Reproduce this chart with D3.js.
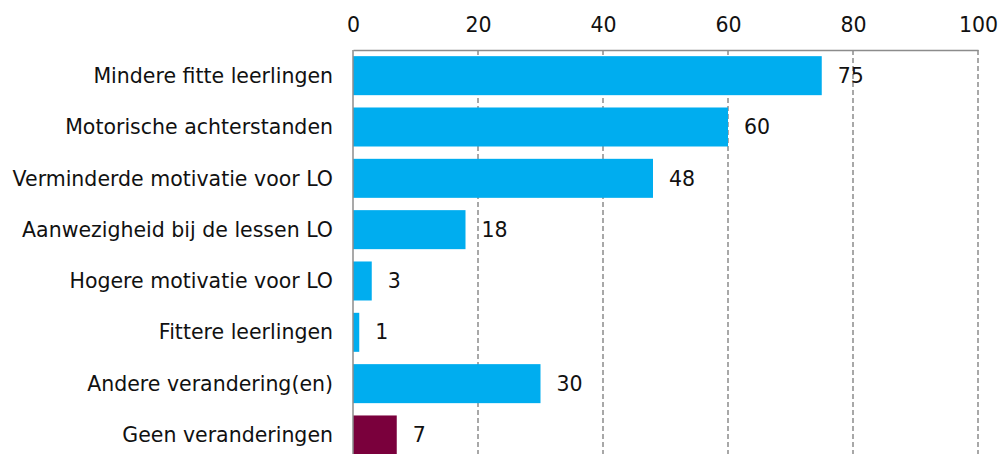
<!DOCTYPE html>
<html>
<head>
<meta charset="utf-8">
<script src="https://cdn.jsdelivr.net/npm/d3@7"></script>
<style>
  body { margin: 0; background: #fff; }
  svg { display: block; font-family: "DejaVu Sans", Verdana, sans-serif; }
</style>
</head>
<body>
<svg id="chart" width="1007" height="454"></svg>
<script>
// categories and values (percent)
var categories = [
    'Mindere fitte leerlingen',
    'Motorische achterstanden',
    'Verminderde motivatie voor LO',
    'Aanwezigheid bij de lessen LO',
    'Hogere motivatie voor LO',
    'Fittere leerlingen',
    'Andere verandering(en)',
    'Geen veranderingen'
];
var values = [75, 60, 48, 18, 3, 1, 30, 7];
var tickValues = [0, 20, 40, 60, 80, 100];

var
svg = d3.select('#chart'),
plotLeft = 353,
plotRight = 978,
plotTop = 50,
step = 51.33,
fontSize = '20.5px',
barColor = '#00adef',
lastColor = '#7a003c',
gridColor = '#8c8c8c';

var x = d3.scaleLinear().domain([0, 100]).range([plotLeft, plotRight]);
var y = d3.scaleBand()
    .domain(categories)
    .range([plotTop, plotTop + step * categories.length])
    .paddingInner(0.24)
    .paddingOuter(0.12);

// dashed gridlines
svg.append('g').selectAll('line')
    .data(tickValues.filter(function (d) { return d > 0; }))
    .enter().append('line')
    .attr('x1', function (d) { return x(d); })
    .attr('x2', function (d) { return x(d); })
    .attr('y1', plotTop)
    .attr('y2', 470)
    .attr('stroke', gridColor)
    .attr('stroke-width', 1.5)
    .attr('stroke-dasharray', '5,3');

// bars
svg.append('g').selectAll('rect')
    .data(values)
    .enter().append('rect')
    .attr('x', x(0))
    .attr('y', function (d, i) { return y(categories[i]); })
    .attr('width', function (d) { return x(d) - x(0); })
    .attr('height', y.bandwidth())
    .attr('fill', function (d, i) { return i === values.length - 1 ? lastColor : barColor; });

// top axis
var axis = d3.axisTop(x).tickValues(tickValues).tickSize(0).tickPadding(18);
var gx = svg.append('g').attr('transform', 'translate(0,' + plotTop + ')').call(axis);
gx.select('.domain').attr('stroke', gridColor).attr('stroke-width', 1.5);
gx.selectAll('text').attr('fill', '#111').style('font-size', fontSize)
    .style('font-family', '"DejaVu Sans", Verdana, sans-serif');

// zero line
svg.append('line')
    .attr('x1', x(0)).attr('x2', x(0))
    .attr('y1', plotTop).attr('y2', 470)
    .attr('stroke', gridColor).attr('stroke-width', 1.5);

// category labels
svg.append('g').selectAll('text')
    .data(categories)
    .enter().append('text')
    .attr('x', 333)
    .attr('y', function (d) { return y(d) + y.bandwidth() / 2; })
    .attr('dy', '0.35em')
    .attr('text-anchor', 'end')
    .attr('fill', '#111')
    .style('font-size', fontSize)
    .text(function (d) { return d; });

// value labels
svg.append('g').selectAll('text')
    .data(values)
    .enter().append('text')
    .attr('x', function (d) { return x(d) + 16; })
    .attr('y', function (d, i) { return y(categories[i]) + y.bandwidth() / 2; })
    .attr('dy', '0.35em')
    .attr('fill', '#111')
    .style('font-size', fontSize)
    .text(function (d) { return d; });
</script>
</body>
</html>
